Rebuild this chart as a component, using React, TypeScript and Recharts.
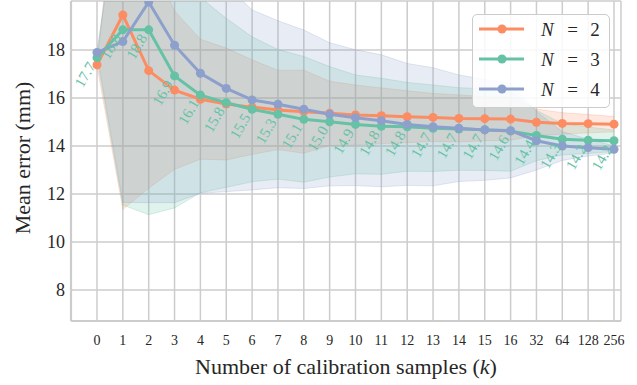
import React from 'react';
import {
    ComposedChart, Area, Line, XAxis, YAxis, CartesianGrid, Legend, LabelList, Label,
} from 'recharts';

// Mean error (mm) vs number of calibration samples, three values of N
const K = ['0', '1', '2', '3', '4', '5', '6', '7', '8', '9', '10', '11', '12', '13', '14', '15', '16', '32', '64', '128', '256'];

const MEAN_N2 = [17.38, 19.46, 17.14, 16.33, 15.95, 15.75, 15.62, 15.5, 15.43, 15.36, 15.29, 15.26, 15.22, 15.19, 15.15, 15.14, 15.12, 14.99, 14.94, 14.93, 14.91];
const MEAN_N3 = [17.68, 18.84, 18.84, 16.92, 16.12, 15.8, 15.53, 15.32, 15.11, 15.01, 14.9, 14.82, 14.8, 14.74, 14.71, 14.68, 14.62, 14.44, 14.28, 14.24, 14.22];
const MEAN_N4 = [17.9, 18.35, 20.0, 18.2, 17.03, 16.4, 15.92, 15.74, 15.53, 15.32, 15.18, 15.05, 14.9, 14.8, 14.74, 14.67, 14.64, 14.22, 14.0, 13.93, 13.86];

// half-width of the shaded band around each mean
const SPREAD_N2 = [0.05, 8.1, 4.9, 3.3, 2.5, 2.33, 1.97, 1.65, 1.73, 1.34, 1.25, 1.16, 1.08, 1.0, 0.98, 0.92, 0.88, 0.55, 0.45, 0.38, 0.32];
const SPREAD_N3 = [0.05, 7.3, 7.7, 5.5, 4.07, 3.52, 3.02, 2.7, 2.62, 2.3, 2.06, 2.0, 1.85, 1.8, 1.72, 1.7, 1.67, 1.05, 0.65, 0.55, 0.45];
const SPREAD_N4 = [0.05, 6.7, 8.36, 6.56, 5.0, 4.3, 3.75, 3.48, 3.3, 2.98, 2.83, 2.75, 2.54, 2.46, 2.22, 2.1, 1.97, 1.22, 0.6, 0.35, 0.15];

const Y_TICKS = [8, 10, 12, 14, 16, 18];

const ORANGE = '#fc8d62';
const GREEN = '#66c2a5';
const BLUE = '#8da0cb';
const GRID = '#cccccc';
const INK = '#262626';
const FONT = '"Liberation Serif", "Times New Roman", serif';

const rows = K.map((k, i) => ({
    k,
    n2: MEAN_N2[i],
    n3: MEAN_N3[i],
    n4: MEAN_N4[i],
    n2Band: [MEAN_N2[i] - SPREAD_N2[i], MEAN_N2[i] + SPREAD_N2[i]],
    n3Band: [MEAN_N3[i] - SPREAD_N3[i], MEAN_N3[i] + SPREAD_N3[i]],
    n4Band: [MEAN_N4[i] - SPREAD_N4[i], MEAN_N4[i] + SPREAD_N4[i]],
}));

const series = [
    { key: 'n2', n: '2', color: ORANGE },
    { key: 'n3', n: '3', color: GREEN },
    { key: 'n4', n: '4', color: BLUE },
];

function GreenValue(props: any) {
    const { x, y, value } = props;
    const ax = x - 1;
    const ay = y + 8;
    return (
        <text
            x={ax} y={ay} textAnchor="end" fill={GREEN} fontSize={15} fontFamily={FONT}
            transform={`rotate(-60, ${ax}, ${ay})`}
        >
            {Number(value).toFixed(1)}
        </text>
    );
}

function LegendBox() {
    return (
        <div style={{
            width: 138, height: 94, boxSizing: 'border-box', border: `1px solid ${GRID}`,
            borderRadius: 5, background: 'rgba(255,255,255,0.85)',
        }}>
            <svg width={136} height={92} style={{ display: 'block' }}>
                {series.map((s, i) => {
                    const cy = 14 + i * 30;
                    return (
                        <g key={s.key}>
                            <line x1={6} x2={51} y1={cy} y2={cy} stroke={s.color} strokeWidth={3} />
                            <circle cx={29} cy={cy} r={4.5} fill={s.color} />
                            <text x={68} y={cy} dominantBaseline="central" fontSize={19} fontFamily={FONT} fontStyle="italic" fill={INK}>N</text>
                            <text x={99.5} y={cy} dominantBaseline="central" textAnchor="middle" fontSize={19} fontFamily={FONT} fill={INK}>=</text>
                            <text x={122} y={cy} dominantBaseline="central" textAnchor="middle" fontSize={19} fontFamily={FONT} fill={INK}>{s.n}</text>
                        </g>
                    );
                })}
            </svg>
        </div>
    );
}

export default function App() {
    return (
        <div style={{ position: 'absolute', left: 0, top: 0, background: '#fff' }}>
            <ComposedChart width={637} height={385} data={rows} margin={{ top: 1, right: 16, bottom: 0, left: 11 }}>
                <CartesianGrid stroke={GRID} strokeWidth={1.5} />
                <XAxis
                    dataKey="k"
                    interval={0}
                    padding={{ left: 26, right: 7 }}
                    height={64}
                    tickSize={0}
                    tickMargin={14}
                    tickLine={false}
                    axisLine={{ stroke: GRID, strokeWidth: 2.2 }}
                    tick={{ fontSize: 14, fill: INK, fontFamily: FONT }}
                    label={{
                        content: (p: any) => {
                            const vb = p.viewBox;
                            return (
                                <text x={vb.x + vb.width / 2} y={vb.y + 53} textAnchor="middle" fontSize={22} fontFamily={FONT} fill={INK}>
                                    Number of calibration samples (<tspan fontStyle="italic">k</tspan>)
                                </text>
                            );
                        },
                    }}
                />
                <YAxis
                    domain={[6.708, 20.042]}
                    allowDataOverflow
                    ticks={Y_TICKS}
                    width={60}
                    tickSize={0}
                    tickMargin={6}
                    tickLine={false}
                    axisLine={{ stroke: GRID, strokeWidth: 2.2 }}
                    tick={{ fontSize: 18, fill: INK, fontFamily: FONT }}
                >
                    <Label
                        content={(p: any) => {
                            const vb = p.viewBox;
                            const cx = vb.x + 11;
                            const cy = vb.y + vb.height / 2 - 3;
                            return (
                                <text x={cx} y={cy} textAnchor="middle" dominantBaseline="central" fontSize={22} fontFamily={FONT} fill={INK}
                                    transform={`rotate(-90, ${cx}, ${cy})`}>
                                    Mean error (mm)
                                </text>
                            );
                        }}
                    />
                </YAxis>
                {series.map((s) => (
                    <Area
                        key={s.key + 'Band'}
                        type="linear"
                        dataKey={s.key + 'Band'}
                        fill={s.color}
                        fillOpacity={0.2}
                        stroke={s.color}
                        strokeOpacity={0.25}
                        strokeWidth={1}
                        dot={false}
                        activeDot={false}
                        isAnimationActive={false}
                    />
                ))}
                {series.map((s) => (
                    <Line
                        key={s.key}
                        type="linear"
                        dataKey={s.key}
                        stroke={s.color}
                        strokeWidth={3}
                        dot={{ r: 4.5, fill: s.color, strokeWidth: 0 }}
                        activeDot={false}
                        isAnimationActive={false}
                    >
                        {s.key === 'n3' ? <LabelList dataKey="n3" content={GreenValue} /> : null}
                    </Line>
                ))}
                <Legend
                    layout="vertical"
                    verticalAlign="middle"
                    align="center"
                    wrapperStyle={{ left: 472, top: 14, width: 138, height: 94 }}
                    content={() => <LegendBox />}
                />
            </ComposedChart>
        </div>
    );
}
